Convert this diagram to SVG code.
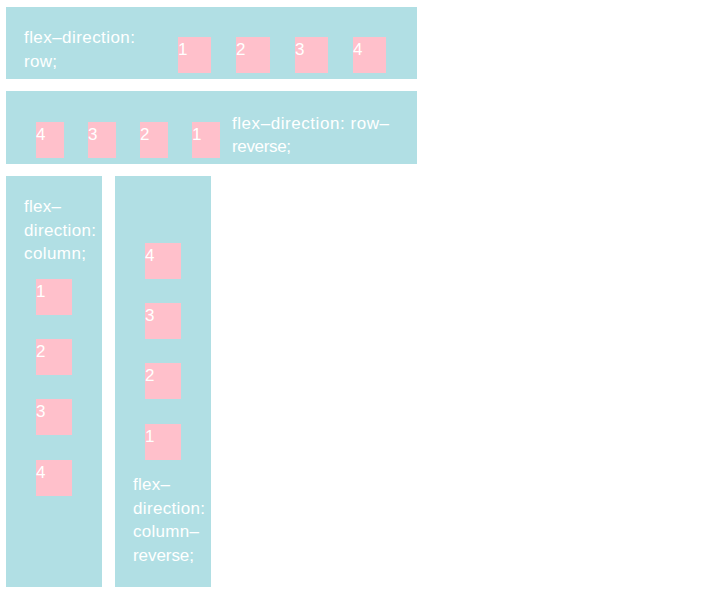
<svg xmlns="http://www.w3.org/2000/svg" width="709" height="595" viewBox="0 0 709 595">
<style>
.box{fill:#b1dfe4}
.sq{fill:#ffc0cb}
text{font-family:"Liberation Sans","Open Sans",Arial,sans-serif;font-size:17px;fill:#ffffff}
</style>
<rect x="0" y="0" width="709" height="595" fill="#ffffff"/>
<g id="row">
<rect class="box" x="6" y="7" width="411" height="72"/>
<text x="24" y="43" textLength="111" lengthAdjust="spacing">flex–direction:</text>
<text x="24" y="67" textLength="33" lengthAdjust="spacing">row;</text>
<g id="row-1"><rect class="sq" x="178" y="37" width="33" height="36"/><text x="178" y="55">1</text></g>
<g id="row-2"><rect class="sq" x="236" y="37" width="34" height="36"/><text x="236" y="55">2</text></g>
<g id="row-3"><rect class="sq" x="295" y="37" width="33" height="36"/><text x="295" y="55">3</text></g>
<g id="row-4"><rect class="sq" x="353" y="37" width="33" height="36"/><text x="353" y="55">4</text></g>
</g>
<g id="row-reverse">
<rect class="box" x="6" y="91" width="411" height="73"/>
<text x="232" y="129" textLength="157" lengthAdjust="spacing">flex–direction: row–</text>
<text x="232" y="152" textLength="59" lengthAdjust="spacing">reverse;</text>
<g id="rr-4"><rect class="sq" x="36" y="122" width="28" height="36"/><text x="36" y="140">4</text></g>
<g id="rr-3"><rect class="sq" x="88" y="122" width="28" height="36"/><text x="88" y="140">3</text></g>
<g id="rr-2"><rect class="sq" x="140" y="122" width="28" height="36"/><text x="140" y="140">2</text></g>
<g id="rr-1"><rect class="sq" x="192" y="122" width="28" height="36"/><text x="192" y="140">1</text></g>
</g>
<g id="column">
<rect class="box" x="6" y="176" width="96" height="411"/>
<text x="24" y="212" textLength="37" lengthAdjust="spacing">flex–</text>
<text x="24" y="236" textLength="72" lengthAdjust="spacing">direction:</text>
<text x="24" y="259" textLength="62" lengthAdjust="spacing">column;</text>
<g id="col-1"><rect class="sq" x="36" y="279" width="36" height="36"/><text x="36" y="297">1</text></g>
<g id="col-2"><rect class="sq" x="36" y="339" width="36" height="36"/><text x="36" y="357">2</text></g>
<g id="col-3"><rect class="sq" x="36" y="399" width="36" height="36"/><text x="36" y="417">3</text></g>
<g id="col-4"><rect class="sq" x="36" y="460" width="36" height="36"/><text x="36" y="478">4</text></g>
</g>
<g id="column-reverse">
<rect class="box" x="115" y="176" width="96" height="411"/>
<g id="cr-4"><rect class="sq" x="145" y="243" width="36" height="36"/><text x="145" y="261">4</text></g>
<g id="cr-3"><rect class="sq" x="145" y="303" width="36" height="36"/><text x="145" y="321">3</text></g>
<g id="cr-2"><rect class="sq" x="145" y="363" width="36" height="36"/><text x="145" y="381">2</text></g>
<g id="cr-1"><rect class="sq" x="145" y="424" width="36" height="36"/><text x="145" y="442">1</text></g>
<text x="133" y="490" textLength="37" lengthAdjust="spacing">flex–</text>
<text x="133" y="514" textLength="72" lengthAdjust="spacing">direction:</text>
<text x="133" y="537" textLength="66" lengthAdjust="spacing">column–</text>
<text x="133" y="561" textLength="61" lengthAdjust="spacing">reverse;</text>
</g>
<g id="connectors"/>
</svg>
